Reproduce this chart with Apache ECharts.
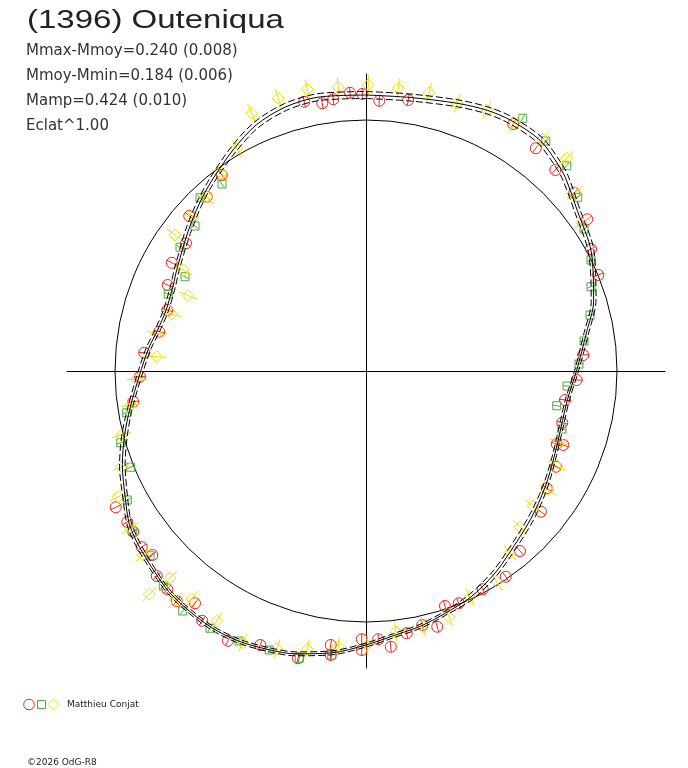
<!DOCTYPE html>
<html>
<head>
<meta charset="utf-8">
<title>(1396) Outeniqua</title>
<script src="https://cdn.jsdelivr.net/npm/echarts@6/dist/echarts.min.js"></script>
<style>
html,body{margin:0;padding:0;background:#fff;}
#main{width:688px;height:768px;}
</style>
</head>
<body>
<div id="main"></div>
<script>
// textes
var titleText = "(1396) Outeniqua";
var statLines = ["Mmax-Mmoy=0.240 (0.008)", "Mmoy-Mmin=0.184 (0.006)", "Mamp=0.424 (0.010)", "Eclat^1.00"];
var observer = "Matthieu Conjat";
var copyText = "\u00a92026 OdG-R8";

// cercle de reference (meme unite que les points)
var refRadius = 1.004;

// courbe ajustee : angle (deg, sens horaire depuis le haut) et rayon
var curveAngle = [0,9,19,25,30,37,43,46,53,62,73,80,90,98,106,114,123,132,142,148,155,162,168,174,180,187,194,199,205,211,218,223,232,237,242,249,255,261,269,276,281,287,294,298,308,315,321,329,336,343,350,360];
var curveR = [1.104,1.108,1.132,1.150,1.158,1.156,1.128,1.110,1.060,1.020,0.952,0.896,0.842,0.814,0.812,0.826,0.854,0.886,0.928,0.962,0.996,1.020,1.044,1.064,1.096,1.136,1.166,1.180,1.194,1.198,1.190,1.180,1.148,1.128,1.090,1.044,1.000,0.956,0.906,0.874,0.850,0.836,0.844,0.858,0.904,0.944,0.980,1.032,1.078,1.104,1.112,1.104];
var curveHi = [1.118,1.122,1.146,1.164,1.172,1.170,1.142,1.124,1.072,1.032,0.962,0.906,0.850,0.822,0.820,0.834,0.864,0.898,0.940,0.974,1.008,1.028,1.052,1.072,1.104,1.144,1.174,1.188,1.202,1.206,1.198,1.188,1.158,1.138,1.100,1.056,1.012,0.966,0.916,0.884,0.860,0.846,0.854,0.868,0.916,0.956,0.992,1.046,1.092,1.118,1.126,1.118];
var curveLo = [1.090,1.094,1.118,1.136,1.144,1.142,1.114,1.096,1.048,1.008,0.942,0.886,0.834,0.806,0.804,0.818,0.844,0.874,0.916,0.950,0.984,1.012,1.036,1.056,1.088,1.128,1.158,1.172,1.186,1.190,1.182,1.172,1.138,1.118,1.080,1.032,0.988,0.946,0.896,0.864,0.840,0.826,0.834,0.848,0.892,0.932,0.968,1.018,1.064,1.090,1.098,1.090];

// mesures : session 1 (rouge), 2 (vert), 3 (jaune)
var redX = [-0.247,-0.175,-0.131,-0.064,-0.015,-0.577,-0.637,-0.707,-0.720,-0.777,-0.793,0.053,0.169,0.589,0.679,0.757,0.833,0.885,0.900,0.929,0.869,0.843,0.796,0.785,0.763,0.789,0.760,0.723,0.700,0.616,0.559,0.467,0.371,0.316,0.285,0.225,0.163,0.099,0.049,-0.017,-0.017,-1.001,-0.955,-0.931,-0.897,-0.855,-0.837,-0.795,-0.757,-0.684,-0.655,-0.552,-0.423,-0.272,-0.141,-0.141,-0.795,-0.827,-0.887,-0.904,-0.931];
var redY = [1.077,1.071,1.087,1.113,1.108,0.784,0.697,0.620,0.511,0.433,0.344,1.081,1.084,0.988,0.891,0.804,0.713,0.607,0.488,0.384,0.064,-0.036,-0.116,-0.207,-0.292,-0.296,-0.383,-0.469,-0.563,-0.720,-0.823,-0.873,-0.929,-0.940,-1.023,-1.016,-1.049,-1.103,-1.073,-1.073,-1.116,-0.545,-0.603,-0.643,-0.705,-0.736,-0.820,-0.873,-0.920,-0.929,-0.999,-1.079,-1.096,-1.149,-1.096,-1.136,0.244,0.157,0.073,-0.023,-0.123];
var greenX = [-0.576,-0.664,-0.684,-0.744,-0.724,0.627,0.719,0.803,0.847,0.872,0.900,0.900,0.896,0.872,0.852,0.804,0.763,0.784,-0.955,-0.933,-0.864,-0.811,-0.733,-0.624,-0.508,-0.387,-0.267,-0.137,-0.791,-0.957,-0.981,-0.941];
var greenY = [0.748,0.693,0.580,0.495,0.377,1.011,0.920,0.821,0.695,0.568,0.444,0.337,0.224,0.120,0.028,-0.060,-0.139,-0.232,-0.516,-0.643,-0.739,-0.860,-0.960,-1.029,-1.080,-1.116,-1.149,-1.136,0.308,-0.167,-0.287,-0.385];
var yellowX = [-0.457,-0.351,-0.235,-0.111,0.009,-0.517,-0.577,-0.637,-0.691,-0.764,-0.731,0.129,0.252,0.365,0.483,0.592,0.707,0.803,0.836,0.863,0.773,0.763,0.729,0.667,0.616,0.576,0.523,0.416,0.332,0.229,0.119,0.005,-0.944,-0.891,-0.784,-0.867,-0.764,-0.697,-0.597,-0.493,-0.357,-0.235,-0.111,-0.711,-0.777,-0.837,-0.837,-0.917,-0.941,-0.977,-0.977,-0.991];
var yellowY = [1.031,1.091,1.127,1.135,1.144,0.891,0.791,0.697,0.617,0.544,0.404,1.131,1.113,1.071,1.044,0.991,0.927,0.851,0.713,0.593,-0.285,-0.380,-0.476,-0.540,-0.625,-0.727,-0.843,-0.905,-0.983,-1.023,-1.043,-1.096,-0.629,-0.736,-0.829,-0.893,-0.916,-0.912,-1.000,-1.087,-1.112,-1.113,-1.103,0.301,0.228,0.151,0.057,-0.033,-0.136,-0.256,-0.383,-0.503];

// barres d'erreur (demi-longueur, meme unite)
var redErr = 0.022, greenErr = 0.016, yellowErr = 0.04;

var UNIT = 250; // px par unite
var CX = 366, CY = 371;
var RED = "#ee2424", GREEN = "#4caa3c", YELLOW = "#eee000";

function pairs(a, b) {
	var out = [];
	for (var i = 0; i < a.length; i++) out.push([a[i], b[i]]);
	return out;
}

function markRender(kind, color, err) {
	return function (params, api) {
		var x = api.value(0), y = api.value(1);
		var p = api.coord([x, y]);
		var o = api.coord([0, 0]);
		var dx = p[0] - o[0], dy = p[1] - o[1];
		var len = Math.sqrt(dx * dx + dy * dy) || 1;
		var e = api.size([err, 0])[0];
		var ux = dx / len * e, uy = dy / len * e;
		var st = { fill: null, stroke: color, lineWidth: 1 };
		var shape;
		if (kind == "circle") {
			shape = { type: "circle", shape: { cx: p[0], cy: p[1], r: 5.5 }, style: st };
		} else if (kind == "square") {
			shape = { type: "rect", shape: { x: p[0] - 4, y: p[1] - 4, width: 8, height: 8 }, style: st };
		} else {
			shape = { type: "polygon", shape: { points: [[p[0], p[1] - 6], [p[0] + 6, p[1]], [p[0], p[1] + 6], [p[0] - 6, p[1]]] }, style: st };
		}
		return {
			type: "group",
			children: [
				{ type: "line", shape: { x1: p[0] - ux, y1: p[1] - uy, x2: p[0] + ux, y2: p[1] + uy }, style: { stroke: color, lineWidth: 1 } },
				shape
			]
		};
	};
}

function polarLine(rArr, dashed) {
	var data = [];
	for (var i = 0; i < curveAngle.length; i++) data.push([rArr[i], curveAngle[i]]);
	return {
		type: "line",
		coordinateSystem: "polar",
		polarIndex: 0,
		data: data,
		smooth: 0.3,
		symbol: "none",
		silent: true,
		lineStyle: { color: "#000", width: 1, type: dashed ? [7, 3] : "solid" }
	};
}

var txt = function (text, x, y, font, fill) {
	return { type: "text", x: x, y: y, silent: true, style: { text: text, x: 0, y: 0, font: font, fill: fill, textAlign: "left", textVerticalAlign: "middle" } };
};

var graphics = [];
var titleEl = txt(titleText, 27, 21, "25px 'Liberation Sans', Arial, sans-serif", "#222");
titleEl.scaleX = 1.32;
graphics.push(titleEl);
for (var i = 0; i < statLines.length; i++) {
	graphics.push(txt(statLines[i], 26, 51 + i * 25, "15px 'DejaVu Sans', sans-serif", "#333"));
}
// legende
graphics.push({ type: "circle", silent: true, shape: { cx: 29, cy: 704.5, r: 5.3 }, style: { fill: null, stroke: RED, lineWidth: 1 } });
graphics.push({ type: "rect", silent: true, shape: { x: 37.5, y: 700.5, width: 8, height: 8 }, style: { fill: null, stroke: GREEN, lineWidth: 1 } });
graphics.push({ type: "polygon", silent: true, shape: { points: [[53.5, 699], [59, 704.5], [53.5, 710], [48, 704.5]] }, style: { fill: null, stroke: YELLOW, lineWidth: 1 } });
graphics.push(txt(observer, 67, 705, "9px 'DejaVu Sans', sans-serif", "#222"));
graphics.push(txt(copyText, 27, 763, "9px 'DejaVu Sans', sans-serif", "#222"));

var chart = echarts.init(document.getElementById("main"));
var option = {
	backgroundColor: "#fff",
	animation: false,
	grid: { left: 67, top: 74, width: 598, height: 594 },
	xAxis: {
		type: "value", min: -1.196, max: 1.196,
		axisLine: { show: true, onZero: true, lineStyle: { color: "#000", width: 1 } },
		axisTick: { show: false }, axisLabel: { show: false }, splitLine: { show: false }
	},
	yAxis: {
		type: "value", min: -1.188, max: 1.188,
		axisLine: { show: true, onZero: true, lineStyle: { color: "#000", width: 1 } },
		axisTick: { show: false }, axisLabel: { show: false }, splitLine: { show: false }
	},
	polar: [
		{ center: [CX, CY], radius: 1.3 * UNIT },
		{ center: [CX, CY], radius: refRadius * UNIT }
	],
	angleAxis: [
		{ polarIndex: 0, type: "value", min: 0, max: 360, startAngle: 90, clockwise: true, show: false },
		{ polarIndex: 1, type: "value", min: 0, max: 360, startAngle: 90, clockwise: true,
		  axisLine: { show: true, lineStyle: { color: "#000", width: 1 } },
		  axisTick: { show: false }, axisLabel: { show: false }, splitLine: { show: false } }
	],
	radiusAxis: [
		{ polarIndex: 0, type: "value", min: 0, max: 1.3, show: false },
		{ polarIndex: 1, type: "value", min: 0, max: refRadius, show: false }
	],
	graphic: graphics,
	series: [
		polarLine(curveLo, true),
		polarLine(curveHi, true),
		polarLine(curveR, false),
		{ type: "custom", clip: false, data: pairs(redX, redY), encode: { x: 0, y: 1 }, renderItem: markRender("circle", RED, redErr) },
		{ type: "custom", clip: false, data: pairs(greenX, greenY), encode: { x: 0, y: 1 }, renderItem: markRender("square", GREEN, greenErr) },
		{ type: "custom", clip: false, data: pairs(yellowX, yellowY), encode: { x: 0, y: 1 }, renderItem: markRender("diamond", YELLOW, yellowErr) }
	]
};
chart.setOption(option);
</script>
</body>
</html>
